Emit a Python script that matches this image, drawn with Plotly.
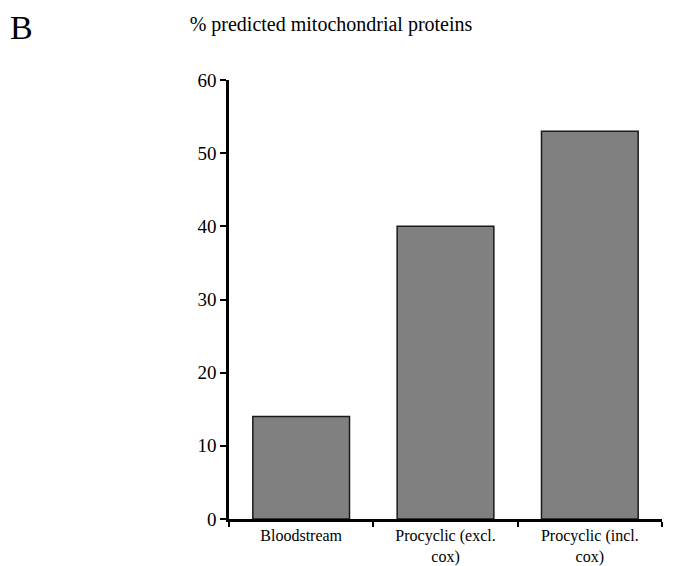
import plotly.graph_objects as go

categories = ["Bloodstream", "Procyclic (excl.<br>cox)", "Procyclic (incl.<br>cox)"]
values = [14, 40, 53]
y_ticks = [0, 10, 20, 30, 40, 50, 60]

W, H = 675, 566
OFF = 8  # default page body margin
L, T = 229 - OFF, 80 - OFF
PLOT_W, PLOT_H = 433, 439
R = W - L - PLOT_W
B = H - T - PLOT_H

fig = go.Figure()
fig.add_trace(go.Bar(
    x=categories, y=values, width=0.67,
    marker=dict(color="#808080", line=dict(color="#1a1a1a", width=1.5)),
))

font_family = "Liberation Serif"
fig.update_layout(
    template="none",
    width=W, height=H,
    margin=dict(l=L, r=R, t=T, b=B, pad=0),
    paper_bgcolor="white", plot_bgcolor="white",
    showlegend=False,
    font=dict(family=font_family, color="black"),
    title=dict(text="% predicted mitochondrial proteins",
               x=(331 - OFF) / W, y=1 - (24 - OFF) / H, xref="container", yref="container",
               xanchor="center", yanchor="middle",
               font=dict(family=font_family, size=20, color="black")),
    xaxis=dict(type="category", range=[-0.5, 2.5], showline=True, automargin=False,
               linecolor="black", linewidth=2.5, ticks="outside",
               tickson="boundaries", ticklen=5, tickwidth=2, tickcolor="black",
               showgrid=False, zeroline=False,
               tickfont=dict(family=font_family, size=16, color="black")),
    yaxis=dict(range=[0, 60], tickvals=y_ticks, showline=True, automargin=False,
               linecolor="black", linewidth=2.5, ticks="outside",
               ticklen=6, tickwidth=2, tickcolor="black",
               showgrid=False, zeroline=False,
               tickfont=dict(family=font_family, size=19, color="black")),
    annotations=[dict(text="B", xref="paper", yref="paper",
                      x=(8 - OFF - L) / PLOT_W, y=(H - B - (27 - OFF)) / PLOT_H,
                      xanchor="left", yanchor="middle", showarrow=False,
                      font=dict(family=font_family, size=34, color="black"))],
)

fig.write_html("out.html")
